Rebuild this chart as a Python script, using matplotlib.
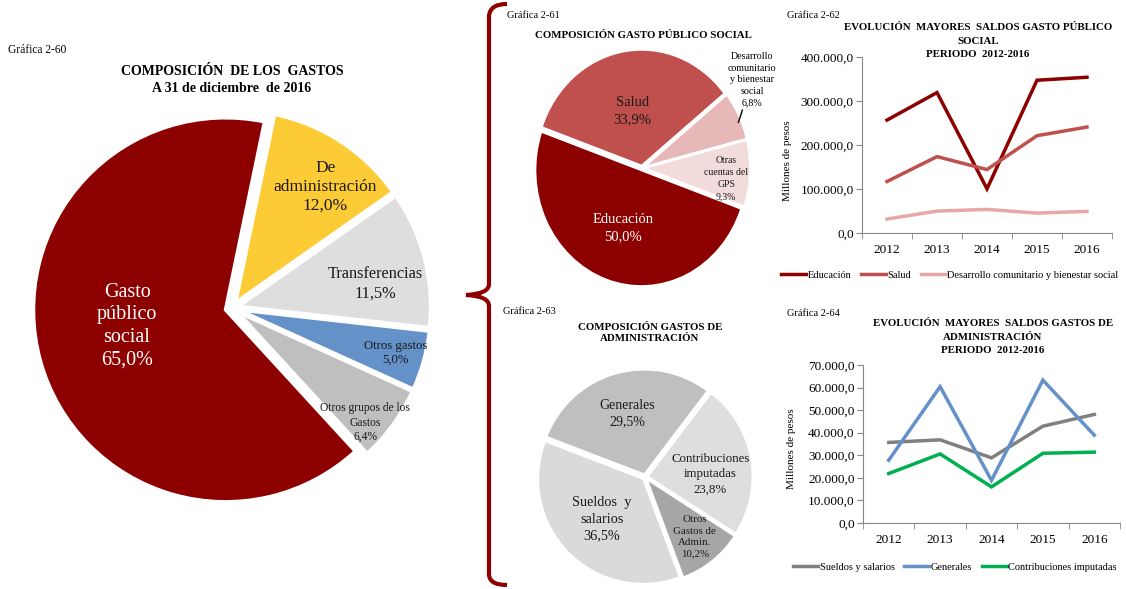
import numpy as np
import matplotlib
matplotlib.use("Agg")
import matplotlib.pyplot as plt
from matplotlib.path import Path
from matplotlib.patches import PathPatch

# --- Configuration ---
plt.rcParams['font.family'] = ['Liberation Serif', 'DejaVu Serif']
W, H = 1126, 589

# --- Data ---
# Grafica 2-60
gastos_labels = ['De\nadministración', 'Transferencias', 'Otros gastos',
                 'Otros grupos de los\nGastos', 'Gasto\npúblico\nsocial']
gastos_values = [12.0, 11.5, 5.0, 6.4, 65.0]

# Grafica 2-61
gps_labels = ['Salud', 'Desarrollo\ncomunitario\ny bienestar\nsocial',
              'Otras\ncuentas del\nGPS', 'Educación']
gps_values = [33.9, 6.8, 9.3, 50.0]

# Grafica 2-63
adm_labels = ['Generales', 'Contribuciones\nimputadas', 'Otros\nGastos de\nAdmin.',
              'Sueldos  y\nsalarios']
adm_values = [29.5, 23.8, 10.2, 36.5]

# Graficas 2-62 / 2-64
years = ['2012', '2013', '2014', '2015', '2016']
educacion = [256600, 319200, 100400, 347200, 354000]
salud = [117000, 173600, 144200, 221100, 240800]
desarrollo = [31700, 49800, 53600, 45300, 49100]

sueldos = [35700, 36850, 28860, 42900, 48100]
generales = [27800, 60400, 18900, 63300, 38900]
contribuciones = [21900, 30600, 16000, 30900, 31400]


def box(x0, y0, x1, y1):
    """Pixel box (top-left origin) -> figure fraction rect."""
    return [x0 / W, 1 - y1 / H, (x1 - x0) / W, (y1 - y0) / H]


def fig_xy(x, y):
    return x / W, 1 - y / H


def pct(v):
    return f"{v:.1f}".replace('.', ',') + '%'


def miles(v, _pos=None):
    s = f"{v:,.1f}"
    return s.replace(',', 'X').replace('.', ',').replace('X', '.')


fig = plt.figure(figsize=(W / 100, H / 100), dpi=100)


def draw_pie(cx, cy, rx, ry, values, colors, start, explode, edge_lw=1.5):
    pad = 1.15
    ax = fig.add_axes(box(cx - rx * pad, cy - ry * pad, cx + rx * pad, cy + ry * pad))
    wedges, _ = ax.pie(values, colors=colors, startangle=start, counterclock=False,
                       explode=explode, radius=1,
                       wedgeprops=dict(edgecolor='white', linewidth=edge_lw))
    ax.set_xlim(-pad, pad)
    ax.set_ylim(-pad, pad)
    ax.set_aspect('auto')
    return ax, wedges


def label_pos(w, r, shift=0.0):
    ang = np.deg2rad((w.theta1 + w.theta2) / 2 + shift)
    return w.center[0] + r * np.cos(ang), w.center[1] + r * np.sin(ang)


# --- Grafica 2-60 ---
fig.text(*fig_xy(8, 50), 'Gráfica 2-60', fontsize=8.3, va='center')
fig.text(*fig_xy(232, 80), 'COMPOSICIÓN  DE LOS  GASTOS\nA 31 de diciembre  de 2016',
         fontsize=10, fontweight='bold', ha='center', va='center', linespacing=1.4)

c1 = ['#FDCB35', '#DEDEDE', '#6591C9', '#BFBFBF', '#8C0000']
ax1, w1 = draw_pie(232, 308, 192, 192, gastos_values, c1, 78.3,
                   [0.035] * 5, edge_lw=2.5)
lab1_r = [0.76, 0.72, 0.85, 0.88, 0.52]
lab1_fs = [12.5, 11.8, 9.2, 8.3, 14.5]
lab1_col = ['#1a1a1a', '#1a1a1a', '#1a1a1a', '#1a1a1a', 'white']
lab1_shift = [-4.5, -5, 0, -5, -6]
for w, name, v, r, fs, col, sh in zip(w1, gastos_labels, gastos_values, lab1_r,
                                      lab1_fs, lab1_col, lab1_shift):
    x, y = label_pos(w, r, sh)
    ax1.text(x, y, f"{name}\n{pct(v)}", ha='center', va='center', fontsize=fs,
             color=col, linespacing=1.25)

# --- Brace ---
bx, tip = 489, 466
verts = [(507, 4), (490, 4), (bx, 16), (bx, 284), (bx, 294), (tip, 295),
         (bx, 296), (bx, 306), (bx, 574), (bx, 585), (507, 585)]
codes = [Path.MOVETO, Path.CURVE3, Path.CURVE3, Path.LINETO, Path.CURVE3, Path.CURVE3,
         Path.CURVE3, Path.CURVE3, Path.LINETO, Path.CURVE3, Path.CURVE3]
brace = PathPatch(Path([fig_xy(*p) for p in verts], codes), facecolor='none',
                  edgecolor='#8C0000', linewidth=3, transform=fig.transFigure)
fig.add_artist(brace)

# --- Grafica 2-61 ---
fig.text(*fig_xy(507, 16), 'Gráfica 2-61', fontsize=7.5, va='center')
fig.text(*fig_xy(643, 35), 'COMPOSICIÓN GASTO PÚBLICO SOCIAL', fontsize=7.8,
         fontweight='bold', ha='center', va='center')
c2 = ['#C0504D', '#E6B9B8', '#F2DCDB', '#8C0000']
ax2, w2 = draw_pie(642, 168, 106, 116, gps_values, c2, 160.6, [0.02] * 4)
lab2_r = [0.48, 1.27, 0.78, 0.53]
lab2_shift = [1, 10, -4, 0]
lab2_fs = [10.5, 7.2, 7, 10.5]
lab2_col = ['#1a1a1a', '#1a1a1a', '#1a1a1a', 'white']
for i, (w, name, v) in enumerate(zip(w2, gps_labels, gps_values)):
    x, y = label_pos(w, lab2_r[i], lab2_shift[i])
    if lab2_r[i] > 1:
        ax2.annotate(f"{name}\n{pct(v)}", xy=label_pos(w, 0.97, -3), xytext=(x, y),
                     ha='center', va='center', fontsize=lab2_fs[i], linespacing=1.35,
                     arrowprops=dict(arrowstyle='-', color='black', lw=1.0,
                                     shrinkA=0, shrinkB=0))
    else:
        ax2.text(x, y, f"{name}\n{pct(v)}", ha='center', va='center',
                 fontsize=lab2_fs[i], color=lab2_col[i], linespacing=1.45)

# --- Grafica 2-63 ---
fig.text(*fig_xy(503, 312), 'Gráfica 2-63', fontsize=7.5, va='center')
fig.text(*fig_xy(650, 333), 'COMPOSICIÓN GASTOS DE\nADMINISTRACIÓN', fontsize=7.8,
         fontweight='bold', ha='center', va='center', linespacing=1.3)
c3 = ['#BFBFBF', '#DEDEDE', '#A6A6A6', '#DADADA']
ax3, w3 = draw_pie(645, 477, 105, 105, adm_values, c3, 159, [0.025] * 4)
lab3_r = [0.6, 0.6, 0.715, 0.55]
lab3_shift = [0, -8, 1, 0]
lab3_fs = [10, 9.3, 7.8, 10.3]
for w, name, v, r, sh, fs in zip(w3, adm_labels, adm_values, lab3_r, lab3_shift, lab3_fs):
    x, y = label_pos(w, r, sh)
    ax3.text(x, y, f"{name}\n{pct(v)}", ha='center', va='center', fontsize=fs,
             color='#1a1a1a', linespacing=1.35)


# --- Line charts ---
def line_chart(rect, series, colors, names, ymax, ystep, title, title_xy, num,
               num_xy, legend_xy, ylabel_xy):
    ax = fig.add_axes(rect)
    xs = np.arange(len(years))
    for vals, col, nm in zip(series, colors, names):
        ax.plot(xs, vals, color=col, lw=2.5, label=nm, solid_joinstyle='miter')
    ax.set_xlim(-0.5, len(years) - 0.5)
    ax.set_ylim(0, ymax)
    ax.set_yticks(np.arange(0, ymax + 1, ystep))
    ax.yaxis.set_major_formatter(miles)
    ax.set_xticks(xs)
    ax.set_xticklabels(years)
    ax.set_xticks(np.arange(-0.5, len(years)), minor=True)
    ax.tick_params(axis='x', which='major', length=0, labelsize=9.5, pad=8)
    ax.tick_params(axis='x', which='minor', length=4, direction='out', color='#868686')
    ax.tick_params(axis='y', length=4, direction='out', color='#868686', labelsize=9.5,
                   pad=2)
    for s in ('top', 'right'):
        ax.spines[s].set_visible(False)
    for s in ('left', 'bottom'):
        ax.spines[s].set_color('#868686')
        ax.spines[s].set_linewidth(0.8)
    ax.set_ylabel('Millones de pesos', fontsize=8, labelpad=4)
    ax.yaxis.set_label_coords(*ylabel_xy)
    fig.text(*fig_xy(*num_xy), num, fontsize=7.5, va='center')
    fig.text(*fig_xy(*title_xy), title, fontsize=7.8,
             fontweight='bold', ha='center', va='center', linespacing=1.65)
    ax.legend(loc='center', bbox_to_anchor=fig_xy(*legend_xy),
              bbox_transform=fig.transFigure, ncol=3, frameon=False, fontsize=7.5,
              handlelength=2.4, columnspacing=0.9, handletextpad=0.15)
    return ax


line_chart(box(862, 57, 1112, 233), [educacion, salud, desarrollo],
           ['#8C0000', '#C0504D', '#E6A8A7'],
           ['Educación', 'Salud', 'Desarrollo comunitario y bienestar social'],
           400000, 100000,
           'EVOLUCIÓN  MAYORES  SALDOS GASTO PÚBLICO\nSOCIAL\nPERIODO  2012-2016',
           (978, 41), 'Gráfica 2-62', (787, 16), (950, 275), (-0.28, 0.41))

line_chart(box(863, 365, 1120, 523), [sueldos, generales, contribuciones],
           ['#808080', '#6591C9', '#00B050'],
           ['Sueldos y salarios', 'Generales', 'Contribuciones imputadas'],
           70000, 10000,
           'EVOLUCIÓN  MAYORES  SALDOS GASTOS DE\nADMINISTRACIÓN\nPERIODO  2012-2016',
           (993, 337), 'Gráfica 2-64', (787, 313), (955, 567), (-0.26, 0.47))

fig.savefig('out.png', dpi=100)
